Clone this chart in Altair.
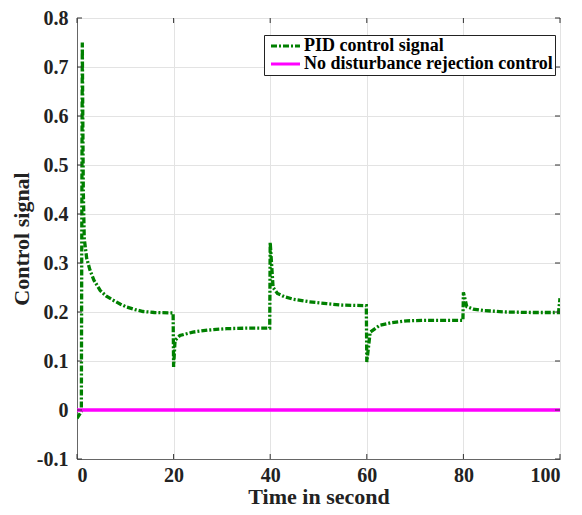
import altair as alt
import pandas as pd

# PID control signal
t_pid = [0, 0.9, 1.0, 1.1, 1.3, 1.5, 2.0, 2.7, 3.5, 4.8, 6.0, 7.5, 9.0, 10.3, 12.0, 13.7, 16.0, 19.9,
         20.0, 20.3, 21.3, 24.0, 27.0, 31.0, 35.0, 39.9,
         40.0, 40.6, 41.5, 43.0, 44.8, 48.0, 51.7, 55.0, 59.9,
         60.0, 60.7, 62.7, 65.0, 68.3, 72.0, 79.9,
         80.0, 80.7, 82.0, 84.1, 88.9, 94.0, 99.7, 100.0]
v_pid = [-0.017, -0.003, 0.40, 0.75, 0.45, 0.35, 0.31, 0.285, 0.265, 0.244, 0.233, 0.224, 0.216, 0.210, 0.205, 0.201, 0.199, 0.198,
         0.088, 0.142, 0.152, 0.159, 0.163, 0.166, 0.167, 0.167,
         0.342, 0.250, 0.238, 0.231, 0.226, 0.221, 0.217, 0.214, 0.213,
         0.098, 0.159, 0.173, 0.178, 0.182, 0.183, 0.183,
         0.240, 0.211, 0.206, 0.203, 0.200, 0.199, 0.199, 0.228]

# No disturbance rejection control
t_nd = [0, 100]
v_nd = [0, 0]

series_names = ["PID control signal", "No disturbance rejection control"]
x_ticks = [0, 20, 40, 60, 80, 100]
y_ticks = [-0.1, 0, 0.1, 0.2, 0.3, 0.4, 0.5, 0.6, 0.7, 0.8]

df = pd.concat([
    pd.DataFrame({"t": t_pid, "v": v_pid, "series": series_names[0]}),
    pd.DataFrame({"t": t_nd, "v": v_nd, "series": series_names[1]}),
])
df_xt = pd.DataFrame({"t": x_ticks})
df_yt = pd.DataFrame({"v": y_ticks})

W, H = 483, 441
FONT = "Liberation Serif"

xenc = alt.X("t:Q", title="Time in second",
             scale=alt.Scale(domain=[0, 100], nice=False, zero=False),
             axis=alt.Axis(values=x_ticks, format="d"))
yenc = alt.Y("v:Q", title="Control signal",
             scale=alt.Scale(domain=[-0.1, 0.8], nice=False, zero=False),
             axis=alt.Axis(values=y_ticks,
                           labelExpr="datum.value < 0 ? '-' + format(-datum.value, '.1~f') : format(datum.value, '.1~f')"))

lines = alt.Chart(df).mark_line(strokeWidth=3.3, clip=True).encode(
    x=xenc, y=yenc,
    color=alt.Color("series:N", title=None,
                    scale=alt.Scale(domain=series_names, range=["#008000", "#ff00ff"])),
    strokeDash=alt.StrokeDash("series:N", title=None,
                              scale=alt.Scale(domain=series_names, range=[[6, 2, 2, 2], [1, 0]])),
)

xt_bottom = alt.Chart(df_xt).mark_rule(color="#333", strokeWidth=1).encode(
    x=xenc, y=alt.value(H), y2=alt.value(H - 5))
xt_top = alt.Chart(df_xt).mark_rule(color="#333", strokeWidth=1).encode(
    x=xenc, y=alt.value(0), y2=alt.value(5))
yt_left = alt.Chart(df_yt).mark_rule(color="#333", strokeWidth=1).encode(
    y=yenc, x=alt.value(0), x2=alt.value(5))
yt_right = alt.Chart(df_yt).mark_rule(color="#333", strokeWidth=1).encode(
    y=yenc, x=alt.value(W), x2=alt.value(W - 5))

chart = alt.layer(lines, xt_bottom, xt_top, yt_left, yt_right).properties(
    width=W, height=H,
    autosize=alt.AutoSizeParams(type="none"),
    padding={"left": 69, "top": 10, "right": 14, "bottom": 48},
).configure_view(
    stroke="#444", strokeWidth=1
).configure_axis(
    labelFont=FONT, labelFontWeight="bold", labelFontSize=20, labelColor="#222",
    titleFont=FONT, titleFontWeight="bold", titleFontSize=22, titleColor="#222",
    grid=True, gridColor="#e3e3e3", gridWidth=1,
    ticks=False, domainColor="#666", domainWidth=1,
).configure_axisX(
    labelPadding=6, titlePadding=1,
).configure_axisY(
    labelPadding=9, titlePadding=3,
).configure_legend(
    orient="none", legendX=187, legendY=17,
    strokeColor="#222", fillColor="white", padding=2, rowPadding=0,
    labelFont=FONT, labelFontWeight="bold", labelFontSize=18, labelColor="black",
    symbolType="M-0.8,0H5", symbolSize=100, symbolStrokeWidth=3,
    symbolFillColor="transparent", labelOffset=20,
    labelLimit=400,
)

chart.save("out.html", embed_options={"renderer": "svg", "actions": False})
